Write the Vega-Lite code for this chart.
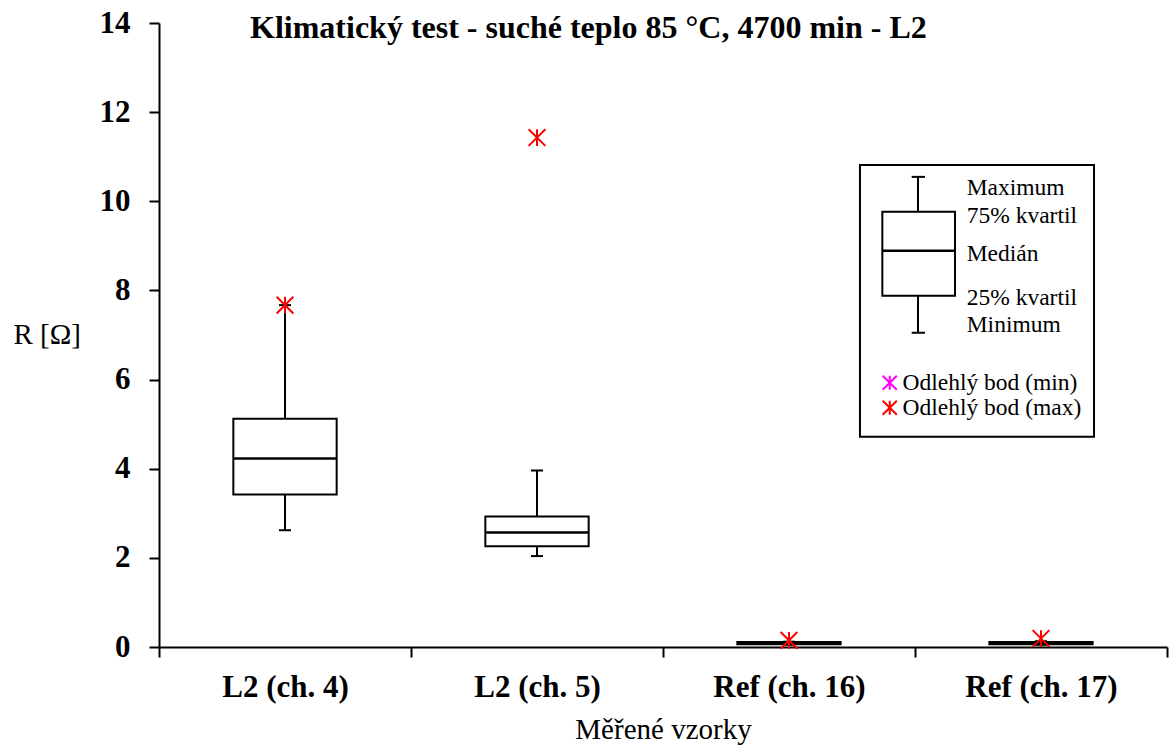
{
  "$schema": "https://vega.github.io/schema/vega-lite/v6.json",
  "width": 1008,
  "height": 624,
  "autosize": {"type": "none"},
  "padding": {"left": 159, "top": 23, "right": 4, "bottom": 102},
  "background": "white",
  "config": {
    "view": {"stroke": null},
    "font": "Liberation Serif",
    "axis": {
      "domainColor": "black",
      "domainWidth": 2,
      "tickColor": "black",
      "tickWidth": 2,
      "tickSize": 10,
      "grid": false,
      "labelColor": "black",
      "labelFont": "Liberation Serif",
      "labelFontWeight": "bold",
      "labelFontSize": 31,
      "titleColor": "black",
      "titleFont": "Liberation Serif",
      "titleFontWeight": "normal",
      "titleFontSize": 29
    }
  },
  "title": {
    "text": "Klimatický  test - suché teplo 85 °C, 4700 min - L2",
    "anchor": "start",
    "frame": "group",
    "orient": "top",
    "offset": 0,
    "dx": 91,
    "dy": 63,
    "baseline": "alphabetic",
    "font": "Liberation Serif",
    "fontSize": 32,
    "fontWeight": "bold",
    "color": "black"
  },
  "datasets": {
    "boxes": [
      {"sample": "L2 (ch. 4)", "min": 2.62, "q1": 3.42, "median": 4.23, "q3": 5.12, "max": 7.67},
      {"sample": "L2 (ch. 5)", "min": 2.04, "q1": 2.26, "median": 2.57, "q3": 2.93, "max": 3.96},
      {"sample": "Ref (ch. 16)", "min": 0.05, "q1": 0.06, "median": 0.09, "q3": 0.11, "max": 0.12},
      {"sample": "Ref (ch. 17)", "min": 0.05, "q1": 0.06, "median": 0.09, "q3": 0.11, "max": 0.13}
    ],
    "outliers": [
      {"sample": "L2 (ch. 4)", "value": 7.67, "kind": "Odlehlý bod (max)"},
      {"sample": "L2 (ch. 5)", "value": 11.43, "kind": "Odlehlý bod (max)"},
      {"sample": "Ref (ch. 16)", "value": 0.15, "kind": "Odlehlý bod (max)"},
      {"sample": "Ref (ch. 17)", "value": 0.19, "kind": "Odlehlý bod (max)"}
    ],
    "key": [{"item": "schema"}]
  },
  "resolve": {"scale": {"x": "independent", "y": "independent"}},
  "layer": [
    {
      "data": {"name": "boxes"},
      "encoding": {
        "x": {
          "field": "sample",
          "type": "nominal",
          "sort": null,
          "scale": {"paddingInner": 0, "paddingOuter": 0},
          "axis": {
            "title": "Měřené  vzorky",
            "labelAngle": 0,
            "tickBand": "extent",
            "labelBaseline": "alphabetic",
            "labelPadding": 39,
            "titleBaseline": "alphabetic",
            "titleY": 91
          }
        }
      },
      "layer": [
        {
          "mark": {"type": "rule", "color": "black", "strokeWidth": 2},
          "encoding": {
            "y": {
              "field": "min",
              "type": "quantitative",
              "scale": {"domain": [0, 14], "nice": false},
              "axis": {
                "title": "R  [Ω]",
                "values": [0, 2, 4, 6, 8, 10, 12, 14],
                "labelPadding": 19,
                "titleAngle": 0,
                "titleAlign": "left",
                "titleBaseline": "alphabetic",
                "titleX": -146,
                "titleY": 320
              }
            },
            "y2": {"field": "max"}
          }
        },
        {
          "mark": {"type": "bar", "width": {"band": 0.41}, "fill": "white", "stroke": "black", "strokeWidth": 2, "opacity": 1},
          "encoding": {
            "y": {"field": "q1", "type": "quantitative"},
            "y2": {"field": "q3"}
          }
        },
        {
          "mark": {"type": "tick", "color": "black", "size": 103, "thickness": 2.5, "opacity": 1},
          "encoding": {"y": {"field": "median", "type": "quantitative"}}
        },
        {
          "mark": {"type": "tick", "color": "black", "size": 12, "thickness": 2, "opacity": 1},
          "encoding": {"y": {"field": "max", "type": "quantitative"}}
        },
        {
          "mark": {"type": "tick", "color": "black", "size": 12, "thickness": 2, "opacity": 1},
          "encoding": {"y": {"field": "min", "type": "quantitative"}}
        },
        {
          "data": {"name": "outliers"},
          "mark": {
            "type": "point",
            "shape": "M-1,-1L1,1M1,-1L-1,1M0,-1L0,1",
            "filled": false,
            "size": 280,
            "strokeWidth": 2,
            "opacity": 1
          },
          "encoding": {
            "y": {"field": "value", "type": "quantitative"},
            "color": {
              "field": "kind",
              "type": "nominal",
              "scale": {
                "domain": ["Odlehlý bod (min)", "Odlehlý bod (max)"],
                "range": ["#ff00ff", "#ff0000"]
              },
              "legend": {
                "title": null,
                "orient": "none",
                "legendX": 719,
                "legendY": 348,
                "symbolType": "M-1,-1L1,1M1,-1L-1,1M0,-1L0,1",
                "symbolSize": 200,
                "symbolStrokeWidth": 2,
                "symbolFillColor": "transparent",
                "labelFont": "Liberation Serif",
                "labelFontSize": 23.5,
                "labelColor": "black",
                "labelOffset": 1,
                "rowPadding": 0,
                "labelLimit": 400
              }
            }
          }
        }
      ]
    },
    {
      "data": {"name": "key"},
      "layer": [
        {
          "mark": {"type": "rect", "fill": "white", "stroke": "black", "strokeWidth": 2},
          "encoding": {
            "x": {"datum": 0.6954, "type": "quantitative", "scale": {"domain": [0, 1], "nice": false, "zero": false}, "axis": null},
            "x2": {"datum": 0.9276},
            "y": {"datum": 0.7726, "type": "quantitative", "scale": {"domain": [0, 1], "nice": false, "zero": false}, "axis": null},
            "y2": {"datum": 0.3371}
          }
        },
        {
          "mark": {"type": "rule", "color": "black", "strokeWidth": 2},
          "encoding": {
            "x": {"datum": 0.7530, "type": "quantitative"},
            "y": {"datum": 0.5036, "type": "quantitative"},
            "y2": {"datum": 0.7534}
          }
        },
        {
          "mark": {"type": "rect", "fill": "white", "stroke": "black", "strokeWidth": 2},
          "encoding": {
            "x": {"datum": 0.7176, "type": "quantitative"},
            "x2": {"datum": 0.7897},
            "y": {"datum": 0.5628, "type": "quantitative"},
            "y2": {"datum": 0.6974}
          }
        },
        {
          "mark": {"type": "rule", "color": "black", "strokeWidth": 2.5},
          "encoding": {
            "x": {"datum": 0.7176, "type": "quantitative"},
            "x2": {"datum": 0.7897},
            "y": {"datum": 0.6349, "type": "quantitative"}
          }
        },
        {
          "mark": {"type": "rule", "color": "black", "strokeWidth": 2},
          "encoding": {
            "x": {"datum": 0.7467, "type": "quantitative"},
            "x2": {"datum": 0.7599},
            "y": {"datum": 0.7534, "type": "quantitative"}
          }
        },
        {
          "mark": {"type": "rule", "color": "black", "strokeWidth": 2},
          "encoding": {
            "x": {"datum": 0.7467, "type": "quantitative"},
            "x2": {"datum": 0.7599},
            "y": {"datum": 0.5036, "type": "quantitative"}
          }
        },
        {
          "mark": {"type": "text", "text": ["Maximum", "75% kvartil"], "align": "left", "baseline": "alphabetic", "lineHeight": 27.7, "font": "Liberation Serif", "fontSize": 23.5, "color": "black"},
          "encoding": {
            "x": {"datum": 0.8013, "type": "quantitative"},
            "y": {"datum": 0.7246, "type": "quantitative"}
          }
        },
        {
          "mark": {"type": "text", "text": "Medián", "align": "left", "baseline": "alphabetic", "font": "Liberation Serif", "fontSize": 23.5, "color": "black"},
          "encoding": {
            "x": {"datum": 0.8013, "type": "quantitative"},
            "y": {"datum": 0.6178, "type": "quantitative"}
          }
        },
        {
          "mark": {"type": "text", "text": ["25% kvartil", "Minimum"], "align": "left", "baseline": "alphabetic", "lineHeight": 27.7, "font": "Liberation Serif", "fontSize": 23.5, "color": "black"},
          "encoding": {
            "x": {"datum": 0.8013, "type": "quantitative"},
            "y": {"datum": 0.5484, "type": "quantitative"}
          }
        }
      ]
    }
  ]
}
